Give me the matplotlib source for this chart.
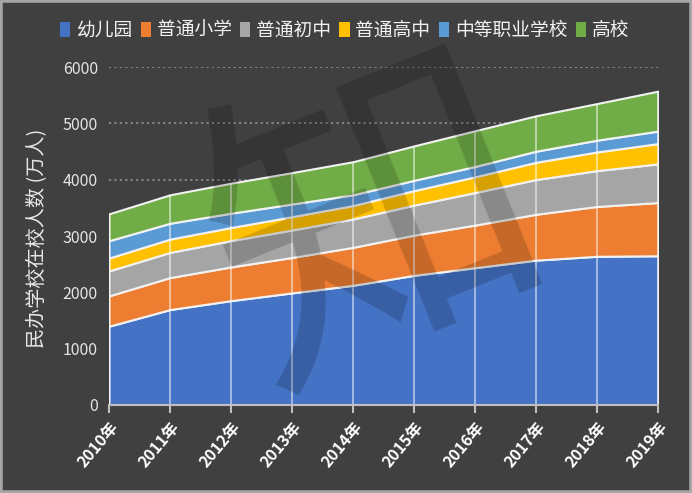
import matplotlib
matplotlib.use("Agg")
import matplotlib.pyplot as plt
from matplotlib.patches import Rectangle
import numpy as np

plt.rcParams['font.family'] = ['Noto Sans CJK SC', 'DejaVu Sans']

years = ["2010年", "2011年", "2012年", "2013年", "2014年", "2015年", "2016年", "2017年", "2018年", "2019年"]
series_names = ["幼儿园", "普通小学", "普通初中", "普通高中", "中等职业学校", "高校"]
kindergarten = [1399, 1694, 1853, 1990, 2125, 2302, 2438, 2572, 2640, 2649]
primary = [538, 568, 598, 629, 674, 714, 756, 814, 885, 945]
junior = [443, 447, 467, 488, 503, 533, 578, 617, 636, 687]
senior = [229, 236, 233, 236, 239, 257, 279, 306, 332, 360]
vocational = [308, 282, 254, 225, 191, 183, 184, 197, 209, 222]
college = [477, 505, 533, 558, 587, 611, 634, 629, 650, 709]
colors = ["#4472C4", "#ED7D31", "#A5A5A5", "#FFC000", "#5B9BD5", "#70AD47"]

bg = "#404040"
fig = plt.figure(figsize=(6.92, 4.93), dpi=100, facecolor=bg)
ax = fig.add_axes([0.1575, 0.1785, 0.951 - 0.1575, 0.864 - 0.1785])
ax.set_facecolor(bg)

x = np.arange(len(years))
data = [kindergarten, primary, junior, senior, vocational, college]
polys = ax.stackplot(x, data, colors=colors, labels=series_names,
                     edgecolor="#f2f2f2", linewidth=1.5, zorder=2)
total = np.sum(np.array(data), axis=0)
ax.vlines(x, 0, total, colors="white", alpha=0.55, linewidth=1.3, zorder=3)

ax.set_xlim(0, len(years) - 1)
ax.set_ylim(0, 6000)
ax.set_yticks(range(0, 6001, 1000))
for yv in range(1000, 6001, 1000):
    ax.axhline(yv, color="#8c8c8c", linestyle=(0, (1.2, 1.8)), linewidth=1.3, zorder=1)

for s in ["left", "right", "top"]:
    ax.spines[s].set_visible(False)
ax.spines["bottom"].set_color("#bfbfbf")
ax.spines["bottom"].set_linewidth(1.5)
ax.spines["bottom"].set_zorder(4)

ax.set_xticks(x)
ax.set_xticklabels(years, rotation=50, ha="right", rotation_mode="anchor",
                   fontsize=11.5, fontweight="bold", color="white")
ax.tick_params(axis="x", length=6, width=1.5, color="#bfbfbf", pad=4)
ax.tick_params(axis="y", length=0, labelsize=11.5, labelcolor="#e6e6e6", pad=8)

# watermark
fig.text(378 / 692, 1 - 232 / 493, "知", rotation=22, ha="center", va="center",
         fontsize=235, color="black", alpha=0.17, zorder=5)

fig.text(38 / 692, 1 - 238 / 493, "民办学校在校人数 (万人)", rotation=90,
         ha="center", va="center", fontsize=14.5, color="#e6e6e6")

handles, labels = ax.get_legend_handles_labels()
leg = fig.legend(handles, labels, loc="center", bbox_to_anchor=(0.498, 0.939),
                 ncol=6, frameon=False, fontsize=13.5, labelcolor="#f2f2f2",
                 handlelength=0.55, handleheight=0.85, handletextpad=0.3,
                 columnspacing=0.45)
for h in leg.legend_handles:
    h.set_edgecolor("none")

fig.patches.append(Rectangle((0, 0), 1, 1, transform=fig.transFigure,
                             fill=False, edgecolor="#a6a6a6", linewidth=4))

fig.savefig("out.png", dpi=100, facecolor=bg)
